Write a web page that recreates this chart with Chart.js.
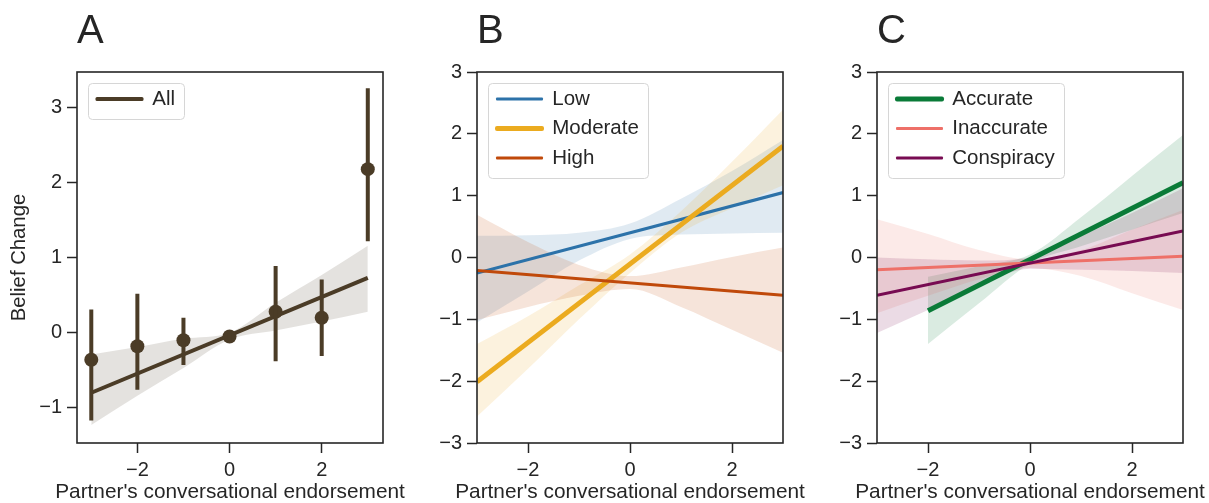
<!DOCTYPE html>
<html><head><meta charset="utf-8">
<script src="https://cdn.jsdelivr.net/npm/chart.js@4.4.1/dist/chart.umd.min.js"></script>
<style>
html,body{margin:0;padding:0;background:#fff;}
#wrap{position:relative;width:1209px;height:503px;overflow:hidden;background:#fff;}
canvas{position:absolute;left:0;top:0;}
</style></head><body>
<div id="wrap">
<canvas id="cA" width="1209" height="503"></canvas>
<canvas id="cB" width="1209" height="503"></canvas>
<canvas id="cC" width="1209" height="503"></canvas>
</div>
<script>
// ---------- tick labels / axis texts ----------
const xTicks = [-2, 0, 2];
const yTicksA = [-1, 0, 1, 2, 3];
const yTicksBC = [-3, -2, -1, 0, 1, 2, 3];
const X_TITLE = "Partner's conversational endorsement";
const Y_TITLE_A = 'Belief Change';

// ---------- Panel A ----------
const xA = [-3, -2, -1, 0, 1, 2, 3];
const meanA = [-0.36, -0.18, -0.10, -0.05, 0.28, 0.20, 2.18];
const errLoA = [-1.17, -0.76, -0.43, -0.09, -0.38, -0.31, 1.22];
const errHiA = [0.31, 0.52, 0.20, -0.01, 0.89, 0.71, 3.26];
const fitXA = [-3, 3];
const fitYA = [-0.80, 0.73];
const bandXA = [-3, -2, -1, 0, 1, 2, 3];
const bandHiA = [-0.29, -0.19, -0.08, 0.00, 0.40, 0.77, 1.16];
const bandLoA = [-1.23, -0.84, -0.47, -0.09, 0.03, 0.15, 0.28];

// ---------- Panel B ----------
const fitXB = [-3, 3];
const bandXB = [-3, -2, -1, 0, 1, 2, 3];
const lowFit = [-0.25, 1.05];
const lowHi = [0.35, 0.36, 0.40, 0.55, 0.95, 1.40, 1.90];
const lowLo = [-1.05, -0.55, -0.05, 0.30, 0.37, 0.39, 0.40];
const modFit = [-2.01, 1.80];
const modHi = [-1.40, -0.95, -0.45, 0.05, 0.75, 1.55, 2.39];
const modLo = [-2.57, -1.80, -1.00, -0.25, 0.40, 0.80, 1.17];
const highFit = [-0.21, -0.61];
const highHi = [0.69, 0.25, -0.12, -0.30, -0.16, 0.01, 0.16];
const highLo = [-1.01, -0.80, -0.62, -0.51, -0.80, -1.17, -1.54];

// ---------- Panel C ----------
const accFitX = [-2, 3];
const accFit = [-0.86, 1.21];
const accBandX = [-2, -1, 0, 1, 2, 3];
const accHi = [-0.31, -0.14, 0.05, 0.65, 1.32, 1.98];
const accLo = [-1.40, -0.74, -0.10, 0.18, 0.45, 0.72];
const fitXC = [-3, 3];
const bandXC = [-3, -2, -1, 0, 1, 2, 3];
const inaccFit = [-0.20, 0.02];
const inaccHi = [0.62, 0.38, 0.12, -0.03, 0.12, 0.45, 0.77];
const inaccLo = [-0.90, -0.62, -0.35, -0.17, -0.30, -0.58, -0.85];
const consFit = [-0.61, 0.43];
const consHi = [0.00, -0.03, -0.05, 0.00, 0.35, 0.72, 1.12];
const consLo = [-1.22, -0.85, -0.45, -0.18, -0.20, -0.22, -0.25];

// ---------- styling ----------
const FONT = "'Liberation Sans', Arial, Helvetica, sans-serif";
const INK = '#262626';
const BROWN = '#4b3c27';
const BLUE = '#2c72a9';
const YELLOW = '#ebab1f';
const HIGHC = '#c0490a';
const GREEN = '#0a7b38';
const SALMON = '#ee7068';
const PLUM = '#780b52';
const LEG_FS = 20.5, LEG_PAD = 9, LEG_BOX = 45;
const TICK_FS = 20, XT_FS = 20.8;

Chart.defaults.font.family = FONT;
Chart.defaults.color = INK;

function rgba(hex, a) {
  const n = parseInt(hex.slice(1), 16);
  return `rgba(${(n >> 16) & 255},${(n >> 8) & 255},${n & 255},${a})`;
}
const pts = (xs, ys) => xs.map((x, i) => ({x, y: ys[i]}));
const fmt = v => String(v).replace('-', '\u2212');

function lineDs(label, xs, ys, color, width, order) {
  return {label, inLegend: true, data: pts(xs, ys), borderColor: color, backgroundColor: color,
    borderWidth: width, pointRadius: 0, fill: false, tension: 0, order, borderCapStyle: 'butt'};
}
function bandDs(xs, hi, lo, color, order) {
  return [
    {label: '_hi', data: pts(xs, hi), borderColor: 'rgba(0,0,0,0)', backgroundColor: rgba(color, 0.15),
      borderWidth: 1, pointRadius: 0, fill: '+1', cubicInterpolationMode: 'monotone', order},
    {label: '_lo', data: pts(xs, lo), borderColor: 'rgba(0,0,0,0)', backgroundColor: 'rgba(0,0,0,0)',
      borderWidth: 1, pointRadius: 0, fill: false, cubicInterpolationMode: 'monotone', order}
  ];
}

const frame = {
  id: 'frame',
  afterLayout(chart) {
    const lg = chart.legend, ca = chart.chartArea;
    if (!lg) return;
    lg.left = ca.left + 11; lg.top = ca.top + 7.75;
    lg.width = 300; lg.height = 200;
    lg.right = lg.left + lg.width; lg.bottom = lg.top + lg.height;
  },
  afterDraw(chart) {
    const {ctx, chartArea: ca} = chart;
    ctx.save();
    const lg = chart.legend;
    if (lg && lg.legendItems && lg.legendItems.length) {
      ctx.font = `${LEG_FS}px ${FONT}`;
      let tw = 0;
      lg.legendItems.forEach(it => { tw = Math.max(tw, ctx.measureText(it.text).width); });
      const n = lg.legendItems.length;
      const x0 = lg.left, y0 = lg.top + LEG_PAD - 6;
      const x1 = lg.left + LEG_PAD + LEG_BOX + LEG_FS / 2 + tw + 9;
      const y1 = lg.top + LEG_PAD + (n - 1) * (LEG_FS + LEG_PAD) + LEG_FS + 9.5;
      ctx.beginPath();
      ctx.roundRect(Math.round(x0) + 0.5, Math.round(y0) + 0.5, Math.round(x1 - x0), Math.round(y1 - y0), 4);
      ctx.strokeStyle = '#d6d6d6'; ctx.lineWidth = 1; ctx.stroke();
    }
    // x-axis title (drawn without width compression)
    ctx.font = `${XT_FS}px ${FONT}`;
    ctx.fillStyle = INK; ctx.textAlign = 'center'; ctx.textBaseline = 'middle';
    ctx.fillText(X_TITLE, (ca.left + ca.right) / 2, 492);
    // frame (spines)
    ctx.strokeStyle = INK; ctx.lineWidth = 1.6;
    ctx.strokeRect(ca.left, ca.top, ca.right - ca.left, ca.bottom - ca.top);
    ctx.restore();
  }
};

function makePanel(id, letter, padLeft, padRight, xr, yr, yTicks, datasets, yTitle) {
  const tickGrid = {display: true, drawOnChartArea: false, drawTicks: true, tickLength: 10, tickWidth: 1.5, tickColor: INK};
  return new Chart(document.getElementById(id), {
    type: 'line',
    data: {datasets},
    plugins: [frame],
    options: {
      responsive: false, animation: false, devicePixelRatio: 1, events: [],
      layout: {padding: {left: padLeft, right: padRight, top: 0, bottom: 0}},
      scales: {
        x: {type: 'linear', min: xr[0], max: xr[1],
          afterBuildTicks: a => { a.ticks = xTicks.map(v => ({value: v})); },
          afterFit: s => { s.height = 60; },
          grid: tickGrid, border: {display: false},
          ticks: {font: {size: TICK_FS, lineHeight: 1.2}, color: INK, padding: 5, maxRotation: 0, autoSkip: false, callback: v => fmt(v)},
          title: {display: false}
        },
        y: {type: 'linear', min: yr[0], max: yr[1],
          afterBuildTicks: a => { a.ticks = yTicks.map(v => ({value: v})); },
          afterFit: s => { s.width = 77; },
          grid: tickGrid, border: {display: false},
          ticks: {font: {size: TICK_FS, lineHeight: 1.2}, color: INK, padding: 5, autoSkip: false, callback: v => fmt(v)},
          title: {display: !!yTitle, text: yTitle || '', color: INK, font: {size: 20.3, lineHeight: 1}, padding: {top: 9.5, bottom: 0}}
        }
      },
      plugins: {
        tooltip: {enabled: false},
        title: {display: true, text: letter, align: 'start', fullSize: false, color: INK,
          font: {size: 40, weight: 'normal', lineHeight: 1.2}, padding: {top: 8, bottom: 16}},
        legend: {display: true, position: 'chartArea', align: 'start',
          labels: {font: {size: LEG_FS}, color: INK, padding: LEG_PAD, boxWidth: LEG_BOX, boxHeight: 1,
            generateLabels: chart => chart.data.datasets.map((ds, i) => ({ds, i})).filter(o => o.ds.inLegend).map(({ds, i}) => ({
              text: ds.label, fillStyle: ds.borderColor, strokeStyle: ds.borderColor,
              lineWidth: Math.max(ds.borderWidth - 1, 0.5), lineJoin: 'round', lineCap: 'round',
              hidden: false, datasetIndex: i, fontColor: INK
            }))
          }
        }
      }
    }
  });
}

// Panel A datasets
const errDataA = [];
xA.forEach((x, i) => { errDataA.push({x, y: errLoA[i]}, {x, y: errHiA[i]}, {x, y: null}); });
const dsA = [
  lineDs('All', fitXA, fitYA, BROWN, 4, 1),
  {label: '_err', data: errDataA, borderColor: BROWN, borderWidth: 4, pointRadius: 0, spanGaps: false, fill: false, order: 0},
  {label: '_pts', data: pts(xA, meanA), showLine: false, pointRadius: 7, pointBackgroundColor: BROWN, pointBorderWidth: 0, order: 0},
  ...bandDs(bandXA, bandHiA, bandLoA, BROWN, 5)
];
makePanel('cA', 'A', 0, 826, [-3.31, 3.33], [-1.47, 3.475], yTicksA, dsA, Y_TITLE_A);

// Panel B datasets
const dsB = [
  lineDs('Low', fitXB, lowFit, BLUE, 3, 2),
  lineDs('Moderate', fitXB, modFit, YELLOW, 5, 1),
  lineDs('High', fitXB, highFit, HIGHC, 3, 0),
  ...bandDs(bandXB, lowHi, lowLo, BLUE, 7),
  ...bandDs(bandXB, modHi, modLo, YELLOW, 6),
  ...bandDs(bandXB, highHi, highLo, HIGHC, 5)
];
makePanel('cB', 'B', 400, 426, [-3, 3], [-3, 3], yTicksBC, dsB, null);

// Panel C datasets
const dsC = [
  lineDs('Accurate', accFitX, accFit, GREEN, 5, 2),
  lineDs('Inaccurate', fitXC, inaccFit, SALMON, 3, 1),
  lineDs('Conspiracy', fitXC, consFit, PLUM, 3, 0),
  ...bandDs(accBandX, accHi, accLo, GREEN, 7),
  ...bandDs(bandXC, inaccHi, inaccLo, SALMON, 6),
  ...bandDs(bandXC, consHi, consLo, PLUM, 5)
];
makePanel('cC', 'C', 800, 26, [-3, 3], [-3, 3], yTicksBC, dsC, null);
</script>
</body></html>
